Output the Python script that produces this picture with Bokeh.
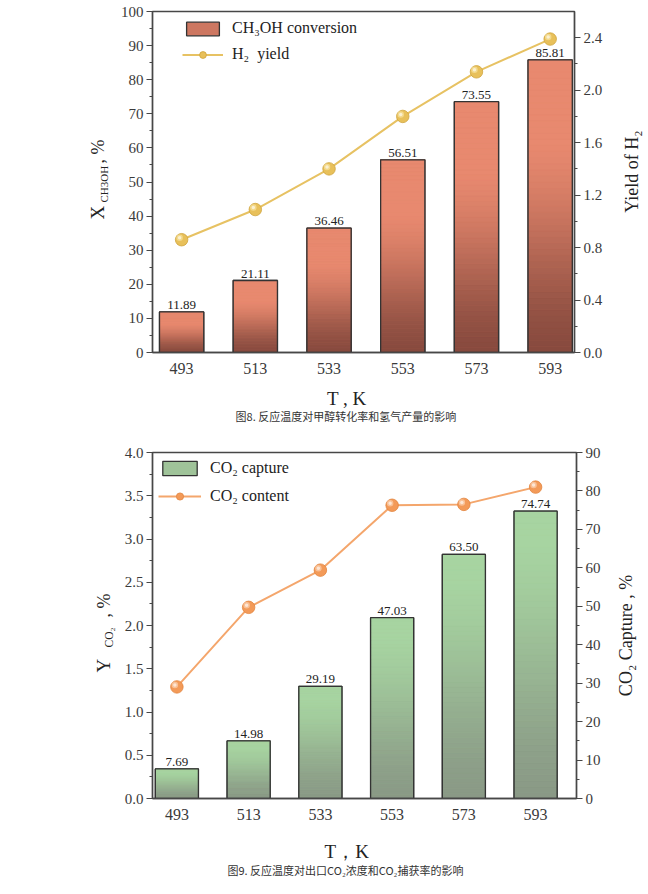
import numpy as np
from bokeh.plotting import figure
from bokeh.models import (Range1d, LinearAxis, FixedTicker, NumeralTickFormatter,
                          Legend, LegendItem, ColumnDataSource)
from bokeh.layouts import column, row
from bokeh.core.properties import value
from bokeh.embed import file_html
from bokeh.resources import INLINE

# ---------------- data ----------------
temps = [493, 513, 533, 553, 573, 593]
ch3oh_conversion = [11.89, 21.11, 36.46, 56.51, 73.55, 85.81]
h2_yield = [0.86, 1.09, 1.40, 1.80, 2.14, 2.39]
co2_capture = [7.69, 14.98, 29.19, 47.03, 63.50, 74.74]
co2_content = [1.29, 2.21, 2.64, 3.39, 3.40, 3.60]

conv_labels = ["11.89", "21.11", "36.46", "56.51", "73.55", "85.81"]
capture_labels = ["7.69", "14.98", "29.19", "47.03", "63.50", "74.74"]

top_left_ticks = [0, 10, 20, 30, 40, 50, 60, 70, 80, 90, 100]
top_right_ticks = [0.0, 0.4, 0.8, 1.2, 1.6, 2.0, 2.4]
bot_left_ticks = [0.0, 0.5, 1.0, 1.5, 2.0, 2.5, 3.0, 3.5, 4.0]
bot_right_ticks = [0, 10, 20, 30, 40, 50, 60, 70, 80, 90]

caption1 = "图8. 反应温度对甲醇转化率和氢气产量的影响"
caption2 = "图9. 反应温度对出口CO₂浓度和CO₂捕获率的影响"

SERIF = "Liberation Serif"
CJK = "Noto Sans CJK SC"
AXC = "#474747"
BAR_W = 12
HALF_PI = np.pi / 2

# page layout (pixels)
O = 1                      # page origin of the layout
LW = 117                   # left title strip width
CW = 492                   # chart column width
RW = 37                    # right title strip width
H1, HB1, H2, HB2 = 382, 41, 405, 47
TOTAL_H = H1 + HB1 + H2 + HB2


def hex_to_rgb(h):
    h = h.lstrip("#")
    return tuple(int(h[i:i + 2], 16) for i in (0, 2, 4))


def mix(c1, c2, s):
    a, b = hex_to_rgb(c1), hex_to_rgb(c2)
    return "#%02x%02x%02x" % tuple(int(round(a[i] + (b[i] - a[i]) * s)) for i in range(3))


def minor_of(ticks):
    return [round((a + b) / 2, 4) for a, b in zip(ticks[:-1], ticks[1:])]


def style_y(ax, ticks, fmt=None):
    ax.ticker = FixedTicker(ticks=ticks, minor_ticks=minor_of(ticks))
    if fmt:
        ax.formatter = NumeralTickFormatter(format=fmt)
    ax.axis_line_color = AXC
    ax.axis_line_width = 1.4
    ax.major_tick_line_color = AXC
    ax.minor_tick_line_color = AXC
    ax.major_tick_line_width = 1.2
    ax.minor_tick_line_width = 1.2
    ax.major_tick_out = 6
    ax.major_tick_in = 0
    ax.minor_tick_out = 3
    ax.minor_tick_in = 0
    ax.major_label_text_font = SERIF
    ax.major_label_text_font_size = "15px"
    ax.major_label_text_color = "#3a3a3a"
    ax.major_label_standoff = 3


def style_x(ax):
    ax.ticker = FixedTicker(ticks=temps)
    ax.axis_line_color = AXC
    ax.axis_line_width = 1.4
    ax.major_tick_line_color = None
    ax.minor_tick_line_color = None
    ax.major_tick_out = 0
    ax.minor_tick_out = 0
    ax.major_label_text_font = SERIF
    ax.major_label_text_font_size = "16px"
    ax.major_label_text_color = "#3a3a3a"
    ax.major_label_standoff = 10


def gradient_bars(p, vals, light, dark, bias, range_name="default", n=48):
    lefts = [t - BAR_W / 2 for t in temps]
    rights = [t + BAR_W / 2 for t in temps]
    base = p.quad(left=lefts, right=rights, bottom=[0] * len(temps), top=vals,
                  fill_color=mix(dark, light, 0.72), line_color="#333333", line_width=1.3,
                  y_range_name=range_name)
    L, R, B, T, C = [], [], [], [], []
    for t, v in zip(temps, vals):
        for k in range(n):
            f = (k + 0.5) / n
            s = min(1.0, f / bias)
            s = s * s * (3 - 2 * s) * 0.6 + s * 0.4
            L.append(t - BAR_W / 2)
            R.append(t + BAR_W / 2)
            B.append(v * k / n)
            T.append(v * (k + 1) / n)
            C.append(mix(dark, light, s))
    src = ColumnDataSource(dict(left=L, right=R, bottom=B, top=T, color=C))
    p.quad(left="left", right="right", bottom="bottom", top="top", source=src,
           fill_color="color", line_color="color", line_width=0.6, y_range_name=range_name)
    p.quad(left=lefts, right=rights, bottom=[0] * len(temps), top=vals, fill_alpha=0,
           line_color="#333333", line_width=1.3, y_range_name=range_name)
    return base


def shaded_markers(p, ys, dx, dy, edge, body, hi, range_name="default"):
    """Sphere-like markers: a body disc plus a soft highlight shifted up-left
    by (dx, dy) data units (about 2 px)."""
    r1 = p.scatter(temps, ys, marker="circle", size=12.5, fill_color=body, line_color=edge,
                   line_width=0.8, y_range_name=range_name)
    hx = [t - dx for t in temps]
    hy = [v + dy for v in ys]
    r2 = p.scatter(hx, hy, marker="circle", size=6.5, fill_color=hi, fill_alpha=0.55,
                   line_color=None, y_range_name=range_name)
    r3 = p.scatter(hx, hy, marker="circle", size=3.5, fill_color="#ffffff", fill_alpha=0.6,
                   line_color=None, y_range_name=range_name)
    return r1, [r2, r3]


def value_labels(p, vals, labels, range_name="default"):
    src = ColumnDataSource(dict(x=temps, y=vals, t=labels))
    p.text(x="x", y="y", text="t", source=src, text_align="center", text_baseline="bottom",
           y_offset=-3, text_font=value(SERIF), text_font_size="13px", text_color="#222222",
           y_range_name=range_name)


def chart_fig(xr, yr, fw, fh, left, right, top, bottom):
    p = figure(frame_width=fw, frame_height=fh, x_range=xr, y_range=yr,
               output_backend="svg", toolbar_location=None,
               min_border_left=left, min_border_right=right,
               min_border_top=top, min_border_bottom=bottom)
    p.xgrid.visible = False
    p.ygrid.visible = False
    p.outline_line_color = AXC
    p.outline_line_width = 1.4
    return p


def text_fig(x0, y0, w, h):
    """A blank strip whose data units are page pixels (x right, y = -page_y)."""
    f = figure(width=w, height=h, x_range=Range1d(x0, x0 + w), y_range=Range1d(-(y0 + h), -y0),
               output_backend="svg", toolbar_location=None, x_axis_type=None,
               y_axis_type=None, min_border=0)
    f.xgrid.visible = False
    f.ygrid.visible = False
    f.outline_line_color = None
    return f


def put(f, x, y, txt, size, font=SERIF, angle=0.0, align="left", baseline="alphabetic",
        color="#222222"):
    f.text(x=[x], y=[-y], text=[txt], angle=angle, text_align=align, text_baseline=baseline,
           text_font=value(font), text_font_size=size, text_color=color)


# ---------------- figure 8 ----------------
X1 = (485.1, 599.6)
p1 = chart_fig(Range1d(*X1), Range1d(0, 100), 422, 341, 34, 36, 11, 30)
p1.extra_y_ranges = {"right": Range1d(0, 2.6)}
p1.add_layout(LinearAxis(y_range_name="right"), "right")
style_x(p1.xaxis[0])
style_y(p1.yaxis[0], top_left_ticks)
style_y(p1.yaxis[1], top_right_ticks, "0.0")

bar1 = gradient_bars(p1, ch3oh_conversion, "#e8896f", "#874a3e", 0.72)
value_labels(p1, ch3oh_conversion, conv_labels)

ln1 = p1.line(temps, h2_yield, line_color="#e7c263", line_width=2, y_range_name="right")
mk1, hl1 = shaded_markers(p1, h2_yield, 2 * (X1[1] - X1[0]) / 422, 2 * 2.6 / 341,
                          "#cfa43e", "#e8c05a", "#fbecb4", range_name="right")

leg1 = Legend(items=[LegendItem(label="CH₃OH conversion", renderers=[bar1]),
                     LegendItem(label="H₂  yield", renderers=[ln1, mk1])],
              location=(30, 289), orientation="vertical", padding=0, margin=0,
              spacing=8, glyph_width=41, glyph_height=17, label_height=18,
              label_standoff=9, label_text_font=SERIF, label_text_font_size="16px",
              label_text_color="#222222", background_fill_alpha=0, border_line_alpha=0)
p1.add_layout(leg1)

# ---------------- figure 9 ----------------
X2 = (486.2, 604.4)
p2 = chart_fig(Range1d(*X2), Range1d(0, 4.0), 424, 346, 35, 33, 29, 32)
p2.extra_y_ranges = {"right": Range1d(0, 90)}
p2.add_layout(LinearAxis(y_range_name="right"), "right")
style_x(p2.xaxis[0])
style_y(p2.yaxis[0], bot_left_ticks, "0.0")
style_y(p2.yaxis[1], bot_right_ticks)

bar2 = gradient_bars(p2, co2_capture, "#a7d4a1", "#8a9986", 0.9, range_name="right")
value_labels(p2, co2_capture, capture_labels, range_name="right")

ln2 = p2.line(temps, co2_content, line_color="#f4a66c", line_width=2)
mk2, hl2 = shaded_markers(p2, co2_content, 2 * (X2[1] - X2[0]) / 424, 2 * 4.0 / 346,
                          "#e2843e", "#f39a58", "#fde0c8")

leg2 = Legend(items=[LegendItem(label="CO₂ capture", renderers=[bar2]),
                     LegendItem(label="CO₂ content", renderers=[ln2, mk2])],
              location=(6, 293), orientation="vertical", padding=0, margin=0,
              spacing=10, glyph_width=43, glyph_height=18, label_height=18,
              label_standoff=9, label_text_font=SERIF, label_text_font_size="16px",
              label_text_color="#222222", background_fill_alpha=0, border_line_alpha=0)
p2.add_layout(leg2)

# ---------------- text strips (page-pixel coordinates) ----------------
lf = text_fig(O, O, LW, TOTAL_H)
put(lf, 98, 220, "X", "19px", angle=HALF_PI)
put(lf, 104, 203, "CH3OH", "11px", angle=HALF_PI)
put(lf, 98, 164, ", %", "18px", angle=HALF_PI)
put(lf, 104, 673, "Y", "19px", angle=HALF_PI)
put(lf, 109, 648, "CO₂", "11.5px", angle=HALF_PI)
put(lf, 104, 618, ", %", "18px", angle=HALF_PI)

rf = text_fig(O + LW + CW, O, RW, TOTAL_H)
put(rf, 631, 172, "Yield of H₂", "18px", angle=HALF_PI, align="center")
put(rf, 625, 636, "CO₂ Capture , %", "18px", angle=HALF_PI, align="center")

b1 = text_fig(O + LW, O + H1, CW, HB1)
put(b1, 345, 399, "T , K", "19px", align="center")
put(b1, 344, 416, caption1, "11px", font=CJK, align="center", baseline="middle",
    color="#333333")

b2 = text_fig(O + LW, O + H1 + HB1 + H2, CW, HB2)
put(b2, 345, 850, "T，K", "19px", align="center")
put(b2, 343.5, 868, caption2, "11px", font=CJK, align="center", baseline="middle",
    color="#333333")

layout = row(lf, column(p1, b1, p2, b2, spacing=0), rf, spacing=0)
open("out.html", "w").write(file_html(layout, INLINE))
